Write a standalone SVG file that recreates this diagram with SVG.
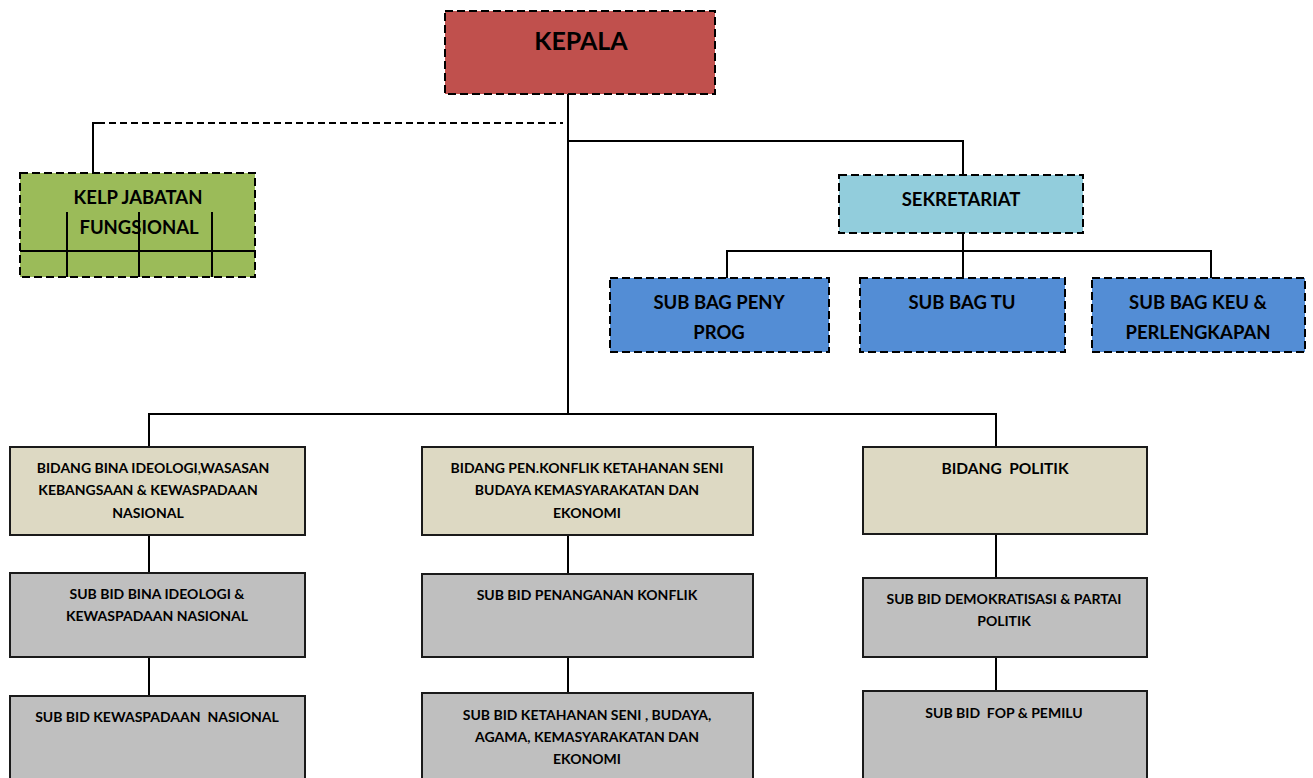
<svg xmlns="http://www.w3.org/2000/svg" width="1313" height="778" viewBox="0 0 1313 778">
<style>
.t{font-family:Lato,"Open Sans","Liberation Sans",sans-serif;font-weight:bold;fill:#000;text-anchor:middle}
.s13{font-size:14px}
.s17{font-size:18.5px}
.dash{stroke:#000;stroke-width:2;stroke-dasharray:8,4}
.solid{stroke:#1a1a1a;stroke-width:2}
.ln{stroke:#000;stroke-width:2;fill:none}
.bid{fill:#DDD9C3}
.sub{fill:#BFBFBF}
.bag{fill:#538DD5}
</style>
<rect width="1313" height="778" fill="#fff"/>
<g id="connectors">
<path class="ln" d="M568 94V414"/>
<path class="ln" d="M93 173V123H98"/>
<path class="ln" d="M98 123H563" stroke-dasharray="7,4"/>
<path class="ln" d="M568 141H963V175"/>
<path class="ln" d="M963 233V278M727 278V251H1211V278"/>
<path class="ln" d="M149 447V414H996V447"/>
<path class="ln" d="M149 535V573M149 657V696"/>
<path class="ln" d="M568 535V574M568 657V693"/>
<path class="ln" d="M996 534V578M996 657V691"/>
</g>
<g id="kepala">
<rect x="445" y="11" width="270" height="83" fill="#C0504D" class="dash"/>
<text class="t" x="581" y="50" style="font-size:25px">KEPALA</text>
</g>
<g id="kelp">
<rect x="20" y="173" width="235" height="104" fill="#9BBB59" class="dash"/>
<path class="ln" d="M20 251H255M67 212V277M139 212V277M212 212V277"/>
<text class="t s17" x="138" y="204">KELP JABATAN</text>
<text class="t s17" x="139" y="234">FUNGSIONAL</text>
</g>
<g id="sekretariat">
<rect x="839" y="175" width="244" height="58" fill="#92CDDC" class="dash"/>
<text class="t s17" x="961" y="206">SEKRETARIAT</text>
</g>
<g id="subbag-prog">
<rect x="610" y="278" width="219" height="74" class="bag dash"/>
<text class="t s17" x="719" y="309">SUB BAG PENY</text>
<text class="t s17" x="719" y="339">PROG</text>
</g>
<g id="subbag-tu">
<rect x="860" y="278" width="205" height="74" class="bag dash"/>
<text class="t s17" x="962" y="309">SUB BAG TU</text>
</g>
<g id="subbag-keu">
<rect x="1092" y="278" width="213" height="74" class="bag dash"/>
<text class="t s17" x="1198" y="309">SUB BAG KEU &amp;</text>
<text class="t s17" x="1198" y="339">PERLENGKAPAN</text>
</g>
<g id="bidang-ideologi">
<rect x="10" y="447" width="295" height="88" class="bid solid"/>
<text class="t s13" x="153" y="473">BIDANG BINA IDEOLOGI,WASASAN</text>
<text class="t s13" x="148" y="495">KEBANGSAAN &amp; KEWASPADAAN</text>
<text class="t s13" x="148" y="518">NASIONAL</text>
</g>
<g id="subbid-ideologi">
<rect x="10" y="573" width="295" height="84" class="sub solid"/>
<text class="t s13" x="157" y="599">SUB BID BINA IDEOLOGI &amp;</text>
<text class="t s13" x="157" y="621">KEWASPADAAN NASIONAL</text>
</g>
<g id="subbid-kewaspadaan">
<rect x="10" y="696" width="295" height="90" class="sub solid"/>
<text class="t s13" x="157" y="722" xml:space="preserve">SUB BID KEWASPADAAN  NASIONAL</text>
</g>
<g id="bidang-konflik">
<rect x="422" y="447" width="331" height="88" class="bid solid"/>
<text class="t s13" x="587" y="473">BIDANG PEN.KONFLIK KETAHANAN SENI</text>
<text class="t s13" x="587" y="495">BUDAYA KEMASYARAKATAN DAN</text>
<text class="t s13" x="587" y="518">EKONOMI</text>
</g>
<g id="subbid-konflik">
<rect x="422" y="574" width="331" height="83" class="sub solid"/>
<text class="t s13" x="587" y="600">SUB BID PENANGANAN KONFLIK</text>
</g>
<g id="subbid-ketahanan">
<rect x="422" y="693" width="331" height="93" class="sub solid"/>
<text class="t s13" x="587" y="720">SUB BID KETAHANAN SENI , BUDAYA,</text>
<text class="t s13" x="587" y="742">AGAMA, KEMASYARAKATAN DAN</text>
<text class="t s13" x="587" y="764">EKONOMI</text>
</g>
<g id="bidang-politik">
<rect x="863" y="447" width="284" height="87" class="bid solid"/>
<text class="t" x="1005" y="474" style="font-size:15.5px" xml:space="preserve">BIDANG  POLITIK</text>
</g>
<g id="subbid-demokratisasi">
<rect x="863" y="578" width="284" height="79" class="sub solid"/>
<text class="t s13" x="1004" y="604">SUB BID DEMOKRATISASI &amp; PARTAI</text>
<text class="t s13" x="1004" y="626">POLITIK</text>
</g>
<g id="subbid-fop">
<rect x="863" y="691" width="284" height="95" class="sub solid"/>
<text class="t s13" x="1004" y="718" xml:space="preserve">SUB BID  FOP &amp; PEMILU</text>
</g>
</svg>
